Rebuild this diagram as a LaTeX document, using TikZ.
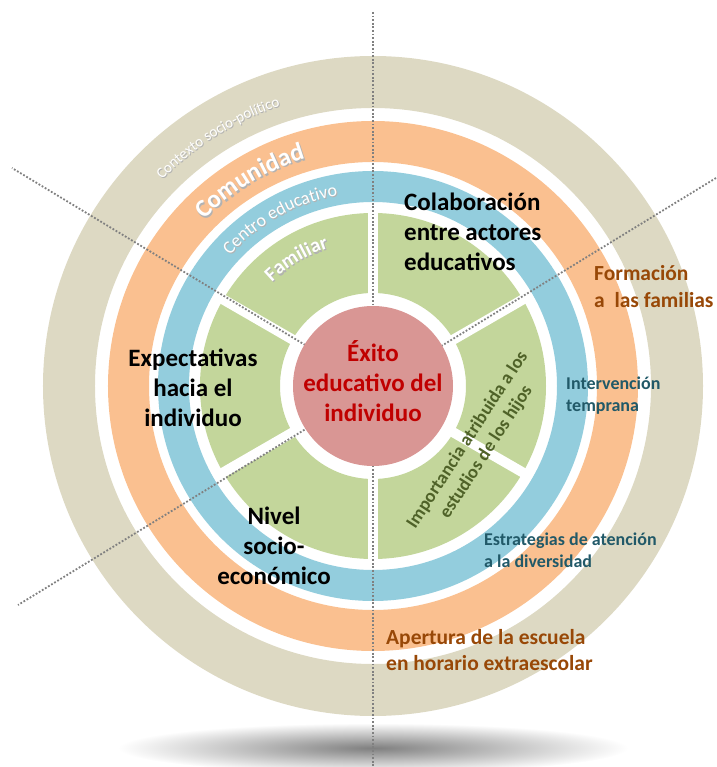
\documentclass[tikz,border=0pt]{standalone}
\usepackage{fontspec}
\setmainfont{Carlito}
\usetikzlibrary{decorations.text}

\definecolor{ctxbeige}{RGB}{221,217,195}
\definecolor{comorange}{RGB}{250,192,144}
\definecolor{cenblue}{RGB}{147,205,221}
\definecolor{famgreen}{RGB}{195,214,155}
\definecolor{exitofill}{RGB}{217,150,148}
\definecolor{exitotext}{RGB}{192,0,0}
\definecolor{browntext}{RGB}{152,72,7}
\definecolor{tealtext}{RGB}{33,89,104}
\definecolor{olivetext}{RGB}{79,98,40}

\tikzset{
    dotline/.style={black!50, line width=1.8, dash pattern=on 1.8 off 1.8},
    arctext/.style={decorate, decoration={text along path, text align=center, text={#1}}},
    bigblack/.style={font=\fontsize{25}{30}\selectfont\bfseries, inner sep=0pt},
    sidebrown/.style={font=\fontsize{21.5}{26.5}\selectfont\bfseries, text=browntext,
                      inner sep=0pt, align=left, anchor=west},
    sideteal/.style={font=\fontsize{18}{22}\selectfont\bfseries, text=tealtext,
                     inner sep=0pt, align=left, anchor=west},
}

\begin{document}
\begin{tikzpicture}[x=1pt, y=1pt]
    \useasboundingbox (-373,-381) rectangle (343,386);

    %% Shadow under the disc
    \shade[inner color=black!50, outer color=white] (0,-362) ellipse [x radius=255, y radius=25];

    %% Rings
    \fill[ctxbeige, even odd rule] (0,0) circle[radius=330] (0,0) circle[radius=278];
    \fill[comorange, even odd rule] (0,0) circle[radius=265] (0,0) circle[radius=224];
    \fill[cenblue, even odd rule] (0,0) circle[radius=215] (0,0) circle[radius=184];
    \fill[famgreen, even odd rule] (0,0) circle[radius=173] (0,0) circle[radius=93];
    \foreach \a in {30,90,...,330}
        \draw[white, line width=10] (\a:90) -- (\a:176);

    %% Dotted guides
    \coordinate (c) at (0,0);
    \coordinate (vtop) at (0,374);
    \coordinate (vbot) at (0,-381);
    \coordinate (ul) at (-361,218);
    \coordinate (ur) at (343,208);
    \coordinate (ll) at (-355,-219);
    \draw[dotline] (vtop) -- (vbot);
    \draw[dotline] (c) -- (ul);
    \draw[dotline] (ur) -- (ll);

    %% Centre
    \node[circle, fill=exitofill, minimum size=160pt, inner sep=0pt] (exito) at (0,0) {};
    \node[bigblack, text=exitotext, align=center] (exitolabel) at ([yshift=5]exito.center)
        {Éxito\\educativo del\\individuo};

    %% Ring titles
    \path[arctext={|\fontsize{15}{15}\selectfont\color{black!30}|Contexto socio-político}, shift={(1,-1)}]
        (152:295) arc[start angle=152, end angle=92, radius=295];
    \path[arctext={|\fontsize{15}{15}\selectfont\color{white}|Contexto socio-político}]
        (152:295) arc[start angle=152, end angle=92, radius=295];
    \path[arctext={|\fontsize{25}{25}\selectfont\bfseries\color{black!30}|Comunidad}, shift={(1.5,-1.5)}]
        (151:237) arc[start angle=151, end angle=91, radius=237];
    \path[arctext={|\fontsize{25}{25}\selectfont\bfseries\color{white}|Comunidad}]
        (151:237) arc[start angle=151, end angle=91, radius=237];
    \path[arctext={|\fontsize{18}{18}\selectfont\color{black!30}|Centro educativo}, shift={(1,-1)}]
        (149:194) arc[start angle=149, end angle=89, radius=194];
    \path[arctext={|\fontsize{18}{18}\selectfont\color{white}|Centro educativo}]
        (149:194) arc[start angle=149, end angle=89, radius=194];
    \path[arctext={|\fontsize{20}{20}\selectfont\bfseries\color{black!30}|Familiar}, shift={(1.2,-1.2)}]
        (151:145) arc[start angle=151, end angle=91, radius=145];
    \path[arctext={|\fontsize{20}{20}\selectfont\bfseries\color{white}|Familiar}]
        (151:145) arc[start angle=151, end angle=91, radius=145];

    %% Family factors
    \node[bigblack, align=left, anchor=west] (colab) at (31,154)
        {Colaboración\\entre actores\\educativos};
    \node[bigblack, align=center] (expect) at (-180,-2)
        {Expectativas\\hacia el\\individuo};
    \node[bigblack, align=center] (nivel) at (-99,-160)
        {Nivel\\socio-\\económico};
    \node[font=\fontsize{18.5}{22.5}\selectfont\bfseries, text=olivetext, align=center,
          inner sep=0pt, rotate=57] (importancia) at (104,-60)
        {Importancia atribuida a los\\estudios de los hijos};

    %% School and community actions
    \node[sidebrown] (formacion) at (221,99.5) {Formación\\a\ \ las familias};
    \node[sideteal] (interv) at (193,-10) {Intervención\\temprana};
    \node[sideteal] (estrat) at (111,-164) {Estrategias de atención\\a la diversidad};
    \node[sidebrown] (apertura) at (13,-264) {Apertura de la escuela\\en horario extraescolar};
\end{tikzpicture}
\end{document}
